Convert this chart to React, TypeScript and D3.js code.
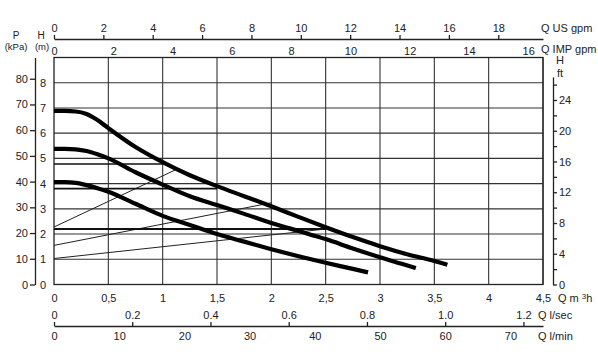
import React from "react";
import * as d3 from "d3";

// pump curves: [Q m3/h, H m]
const curveHigh: [number, number][] = [
    [0, 6.88], [0.1, 6.88], [0.2, 6.86], [0.3, 6.76], [0.4, 6.52], [0.5, 6.2],
    [0.75, 5.45], [1, 4.85], [1.25, 4.33], [1.5, 3.9], [1.75, 3.5], [2, 3.1],
    [2.25, 2.68], [2.5, 2.27], [2.75, 1.88], [3, 1.52], [3.25, 1.2], [3.5, 0.93], [3.62, 0.78],
];
const curveMid: [number, number][] = [
    [0, 5.38], [0.1, 5.38], [0.2, 5.36], [0.3, 5.29], [0.4, 5.16], [0.5, 5.0],
    [0.75, 4.45], [1, 3.96], [1.25, 3.5], [1.5, 3.15], [1.75, 2.8], [2, 2.44],
    [2.25, 2.12], [2.5, 1.8], [2.75, 1.43], [3, 1.08], [3.2, 0.82], [3.33, 0.65],
];
const curveLow: [number, number][] = [
    [0, 4.06], [0.1, 4.06], [0.2, 4.03], [0.3, 3.94], [0.4, 3.82], [0.5, 3.68],
    [0.75, 3.2], [1, 2.72], [1.25, 2.36], [1.5, 2.0], [1.75, 1.7], [2, 1.4],
    [2.25, 1.12], [2.5, 0.86], [2.75, 0.62], [2.89, 0.48],
];

// system curves and duty heads
const systemLines: [number, number][][] = [
    [[0, 2.28], [1.12, 4.55]],
    [[0, 1.55], [2.0, 3.24]],
    [[0, 1.03], [2.5, 2.2]],
];
const dutyLines: [number, number][][] = [
    [[0, 4.78], [1.05, 4.78]],
    [[0, 3.8], [1.5, 3.8]],
    [[0, 2.2], [2.5, 2.2]],
];

// tick values
const qTicks = [0, 0.5, 1, 1.5, 2, 2.5, 3, 3.5, 4, 4.5];
const usGpmTicks = [0, 2, 4, 6, 8, 10, 12, 14, 16, 18];
const impGpmTicks = [0, 2, 4, 6, 8, 10, 12, 14, 16];
const lsecTicks = [0, 0.2, 0.4, 0.6, 0.8, 1.0, 1.2];
const lminTicks = [0, 10, 20, 30, 40, 50, 60, 70];
const kpaTicks = [0, 10, 20, 30, 40, 50, 60, 70, 80];
const mTicks = [0, 1, 2, 3, 4, 5, 6, 7, 8];
const ftTicks = [0, 2, 4, 6, 8, 10, 12, 14, 16, 18, 20, 22, 24, 26];

const FONT = "'Liberation Sans Narrow', 'Arial Narrow', 'Liberation Sans', sans-serif";

export default function App() {
    const ref = React.useRef<SVGSVGElement>(null);

    React.useEffect(() => {
        const svg = d3.select(ref.current);
        svg.selectAll("*").remove();

        const qMax = 4.5;
        const hMax = 9;
        const x = d3.scaleLinear().domain([0, qMax]).range([54, 543]);
        const y = d3.scaleLinear().domain([0, hMax]).range([284.5, 57.5]);

        const us = d3.scaleLinear().domain([0, qMax / 0.227125]).range(x.range());
        const imp = d3.scaleLinear().domain([0, qMax / 0.272765]).range(x.range());
        const lsec = d3.scaleLinear().domain([0, qMax / 3.6]).range(x.range());
        const lmin = d3.scaleLinear().domain([0, qMax / 0.06]).range(x.range());
        const kpa = d3.scaleLinear().domain([0, hMax * 9.80665]).range(y.range());
        const ft = d3.scaleLinear().domain([0, 27]).range([y(0), y(27 * 0.3048)]);

        const [x0, x1] = x.range();
        const [yb, yt] = y.range();

        // grid
        const grid = svg.append("g").attr("stroke", "#333").attr("stroke-width", 1.1);
        grid.selectAll(".h")
            .data(mTicks.filter((d) => d > 0))
            .join("line")
            .attr("x1", x0)
            .attr("x2", x1)
            .attr("y1", (d) => y(d))
            .attr("y2", (d) => y(d));
        grid.selectAll(".v")
            .data(qTicks.filter((d) => d > 0))
            .join("line")
            .attr("y1", yt)
            .attr("y2", yb)
            .attr("x1", (d) => x(d))
            .attr("x2", (d) => x(d));

        svg.append("rect")
            .attr("x", x0)
            .attr("y", yt)
            .attr("width", x1 - x0)
            .attr("height", yb - yt)
            .attr("fill", "none")
            .attr("stroke", "#222")
            .attr("stroke-width", 1.3);

        const seg = d3.line<[number, number]>()
            .x((d) => x(d[0]))
            .y((d) => y(d[1]));

        // system curves
        svg.append("g")
            .selectAll("path")
            .data(systemLines)
            .join("path")
            .attr("d", (d) => seg(d))
            .attr("fill", "none")
            .attr("stroke", "#222")
            .attr("stroke-width", 1);

        const dutyWidths = [1.6, 1.6, 2.2];
        svg.append("g")
            .selectAll("path")
            .data(dutyLines)
            .join("path")
            .attr("d", (d) => seg(d))
            .attr("fill", "none")
            .attr("stroke", "#111")
            .attr("stroke-width", (d, i) => dutyWidths[i]);

        // pump curves
        const curve = d3.line<[number, number]>()
            .x((d) => x(d[0]))
            .y((d) => y(d[1]))
            .curve(d3.curveMonotoneX);
        svg.append("g")
            .selectAll("path")
            .data([curveHigh, curveMid, curveLow])
            .join("path")
            .attr("d", (d) => curve(d))
            .attr("fill", "none")
            .attr("stroke", "#000")
            .attr("stroke-width", 4.2);

        // axes
        const comma = (d: d3.NumberValue) => String(d).replace(".", ",");

        svg.append("g")
            .attr("transform", "translate(0,39)")
            .call(d3.axisTop(us).tickValues(usGpmTicks).tickSize(4).tickSizeOuter(0).tickPadding(3).tickFormat(d3.format("d")));

        const impAxis = svg.append("g")
            .attr("transform", `translate(0,${yt})`)
            .call(d3.axisTop(imp).tickValues(impGpmTicks).tickSize(0).tickPadding(3).tickFormat(d3.format("d")));
        impAxis.select(".domain").remove();

        const qAxis = svg.append("g")
            .attr("transform", `translate(0,${yb})`)
            .call(d3.axisBottom(x).tickValues(qTicks).tickSize(0).tickPadding(10).tickFormat(comma));
        qAxis.select(".domain").remove();

        svg.append("g")
            .attr("transform", "translate(0,326)")
            .call(d3.axisTop(lsec).tickValues(lsecTicks).tickSize(4).tickSizeOuter(0).tickPadding(3)
                .tickFormat((d) => (+d === 0 ? "0" : (+d).toFixed(1))));

        const lminAxis = svg.append("g")
            .attr("transform", "translate(0,326)")
            .call(d3.axisBottom(lmin).tickValues(lminTicks).tickSize(0).tickPadding(6).tickFormat(d3.format("d")));
        lminAxis.select(".domain").remove();

        svg.append("g")
            .attr("transform", "translate(35,0)")
            .call(d3.axisLeft(kpa).tickValues(kpaTicks).tickSize(5).tickSizeOuter(0).tickPadding(2));

        const mAxis = svg.append("g")
            .attr("transform", `translate(${x0},0)`)
            .call(d3.axisLeft(y).tickValues(mTicks).tickSize(0).tickPadding(8));
        mAxis.select(".domain").remove();

        svg.append("g")
            .attr("transform", "translate(553,0)")
            .call(d3.axisRight(ft).tickValues(ftTicks).tickSize(4).tickSizeOuter(0).tickPadding(2)
                .tickFormat((d) => (+d % 4 === 0 ? String(d) : "")));

        svg.selectAll(".tick text").attr("fill", "#222");
        svg.selectAll(".tick line, .domain").attr("stroke", "#222").attr("stroke-width", 1.3);
        svg.selectAll("g").attr("font-family", FONT).attr("font-size", 11);

        // titles
        const titles: [string, number, number, string, number][] = [
            ["P", 16, 39, "middle", 10],
            ["(kPa)", 16, 50, "middle", 9.5],
            ["H", 41, 39, "middle", 10],
            ["(m)", 42, 50, "middle", 9.5],
            ["Q US gpm", 541, 32, "start", 11],
            ["Q IMP gpm", 541, 53, "start", 11],
            ["H", 556, 64, "start", 11],
            ["ft", 557, 77, "start", 11],
            ["Q l/sec", 538, 319, "start", 11],
            ["Q l/min", 538, 340, "start", 11],
        ];
        svg.append("g")
            .selectAll("text")
            .data(titles)
            .join("text")
            .attr("x", (d) => d[1])
            .attr("y", (d) => d[2])
            .attr("text-anchor", (d) => d[3])
            .attr("font-family", FONT)
            .attr("font-size", (d) => d[4])
            .attr("fill", "#222")
            .text((d) => d[0]);

        const qUnit = svg.append("text")
            .attr("x", 558)
            .attr("y", 302)
            .attr("font-family", FONT)
            .attr("font-size", 11)
            .attr("fill", "#222");
        qUnit.append("tspan").text("Q m ");
        qUnit.append("tspan").attr("font-size", 8).attr("dy", -3).text("3");
        qUnit.append("tspan").attr("dy", 3).text("h");
    }, []);

    return (
        <div style={{ position: "fixed", left: 0, top: 0 }}>
            <svg ref={ref} width={598} height={352} style={{ background: "#fff", display: "block" }} />
        </div>
    );
}
